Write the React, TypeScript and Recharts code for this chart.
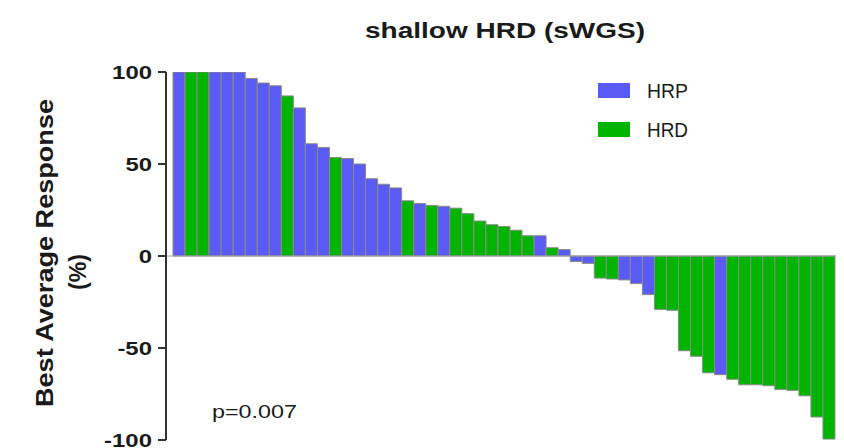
import React from 'react';
import { BarChart, Bar, XAxis, YAxis, Cell, ReferenceLine, Customized } from 'recharts';

const patientIds: string[] = Array.from({ length: 55 }, (_, i) => `P${i + 1}`);

const responses: number[] = [
  100, 100, 100, 100, 100, 100, 96.5, 94, 92.5, 87,
  80.5, 61, 59, 53.5, 53, 50, 42, 39, 37, 30,
  28.5, 27.5, 27, 26, 23, 19, 17, 16, 14, 11,
  11, 4.5, 3.5, -3, -4, -12, -12.5, -13, -15, -21,
  -29, -29.5, -51.5, -54.5, -63.5, -64.5, -67, -70, -70, -70.5,
  -72.5, -73, -76, -87.5, -99.5,
];

const groups: string[] = [
  'HRP', 'HRD', 'HRD', 'HRP', 'HRP', 'HRP', 'HRP', 'HRP', 'HRP', 'HRD',
  'HRP', 'HRP', 'HRP', 'HRD', 'HRP', 'HRP', 'HRP', 'HRP', 'HRP', 'HRD',
  'HRP', 'HRD', 'HRP', 'HRD', 'HRD', 'HRD', 'HRD', 'HRD', 'HRD', 'HRD',
  'HRP', 'HRD', 'HRP', 'HRP', 'HRP', 'HRD', 'HRD', 'HRP', 'HRP', 'HRP',
  'HRD', 'HRD', 'HRD', 'HRD', 'HRD', 'HRP', 'HRD', 'HRD', 'HRD', 'HRD',
  'HRD', 'HRD', 'HRD', 'HRD', 'HRD',
];

const legendLabels: string[] = ['HRP', 'HRD'];
const yTicks: number[] = [-100, -50, 0, 50, 100];
const titleText = 'shallow HRD (sWGS)';
const yLabelLines: string[] = ['Best Average Response', '(%)'];
const pValueText = 'p=0.007';

const COLORS: Record<string, string> = { HRP: '#5A5AF5', HRD: '#00B400' };
const FONT = '"Liberation Sans", Arial, Helvetica, sans-serif';

const data = patientIds.map((id, i) => ({ id, value: responses[i], group: groups[i] }));

const YTick = (props: any) => {
  const { x, y, payload } = props;
  const label = String(payload.value);
  const digits = label.replace('-', '').length;
  const len = digits * 13.3 + (label.startsWith('-') ? 8 : 0);
  return (
    <text
      x={x}
      y={y}
      dy="0.36em"
      textAnchor="end"
      fontFamily={FONT}
      fontWeight="bold"
      fontSize={19}
      fill="#1a1a1a"
      textLength={len}
      lengthAdjust="spacingAndGlyphs"
    >
      {label}
    </text>
  );
};

const Decorations = () => (
  <g>
    <text
      x={505}
      y={38}
      textAnchor="middle"
      fontFamily={FONT}
      fontWeight="bold"
      fontSize={22}
      fill="#1a1a1a"
      textLength={280}
      lengthAdjust="spacingAndGlyphs"
    >
      {titleText}
    </text>
    <text
      transform="translate(53,253) rotate(-90)"
      textAnchor="middle"
      fontFamily={FONT}
      fontWeight="bold"
      fontSize={24}
      fill="#1a1a1a"
      textLength={308}
      lengthAdjust="spacingAndGlyphs"
    >
      {yLabelLines[0]}
    </text>
    <text
      transform="translate(86,272) rotate(-90)"
      textAnchor="middle"
      fontFamily={FONT}
      fontWeight="bold"
      fontSize={23}
      fill="#1a1a1a"
      textLength={36}
      lengthAdjust="spacingAndGlyphs"
    >
      {yLabelLines[1]}
    </text>
    <text
      x={212}
      y={418}
      fontFamily={FONT}
      fontSize={19}
      fill="#1a1a1a"
      textLength={85}
      lengthAdjust="spacingAndGlyphs"
    >
      {pValueText}
    </text>
    {legendLabels.map((lab, i) => (
      <g key={lab}>
        <rect x={598} y={83 + i * 39} width={32} height={15} fill={COLORS[lab]} />
        <text
          x={647}
          y={98 + i * 39}
          fontFamily={FONT}
          fontSize={20}
          fill="#1a1a1a"
          textLength={41}
          lengthAdjust="spacingAndGlyphs"
        >
          {lab}
        </text>
      </g>
    ))}
  </g>
);

export default function App() {
  return (
    <div style={{ position: 'absolute', left: 0, top: 0, width: 844, height: 448, background: '#fff' }}>
      <BarChart
        width={844}
        height={448}
        data={data}
        margin={{ top: 72, right: 8, bottom: 8, left: 0 }}
        barCategoryGap={0}
        barGap={0}
      >
        <XAxis dataKey="id" hide padding={{ left: 7, right: 1 }} />
        <YAxis
          domain={[-100, 100]}
          ticks={yTicks}
          interval={0}
          width={166}
          tickSize={8}
          tickMargin={6}
          allowDataOverflow
          axisLine={{ stroke: '#333', strokeWidth: 2 }}
          tickLine={{ stroke: '#333', strokeWidth: 2 }}
          tick={<YTick />}
        />
        <ReferenceLine y={0} stroke="#a0a0a0" strokeWidth={1} />
        <Bar dataKey="value" isAnimationActive={false} stroke="#8a8a8a" strokeWidth={1}>
          {data.map((d) => (
            <Cell key={d.id} fill={COLORS[d.group]} />
          ))}
        </Bar>
        <Customized component={Decorations} />
      </BarChart>
    </div>
  );
}
